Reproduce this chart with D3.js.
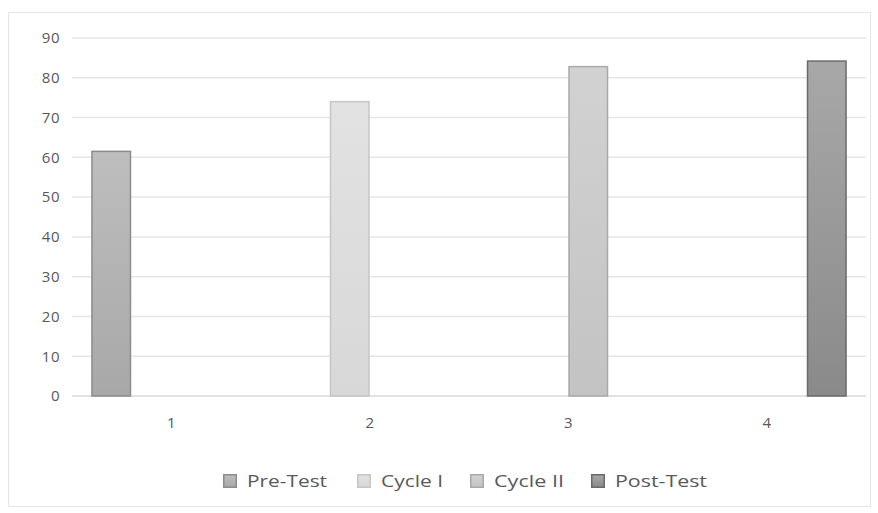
<!DOCTYPE html>
<html>
<head>
<meta charset="utf-8">
<script src="https://cdn.jsdelivr.net/npm/d3@7/dist/d3.min.js"></script>
<style>
  html, body { margin: 0; padding: 0; background: #fff; }
  svg { display: block; font-family: "Open Sans", "Noto Sans", sans-serif; }
</style>
</head>
<body>
<svg id="chart" width="878" height="513"></svg>
<script>
// Test scores across the four stages of the study
const categories = ["1", "2", "3", "4"];
const seriesNames = ["Pre-Test", "Cycle I", "Cycle II", "Post-Test"];
const preTest  = [61.5, 0, 0, 0];
const cycleI   = [0, 74, 0, 0];
const cycleII  = [0, 0, 82.8, 0];
const postTest = [0, 0, 0, 84.2];
const yTicks = [0, 10, 20, 30, 40, 50, 60, 70, 80, 90];

const seriesValues = [preTest, cycleI, cycleII, postTest];
const fills = [
  ["#bebebe", "#a8a8a8"],
  ["#e2e2e2", "#d8d8d8"],
  ["#d2d2d2", "#c3c3c3"],
  ["#a8a8a8", "#8a8a8a"]
];
const strokes = ["#8c8c8c", "#c6c6c6", "#a9a9a9", "#6a6a6a"];

const svg = d3.select("#chart");
const plot = { left: 72, right: 866, top: 38, bottom: 396 };
const FONT = "'Open Sans', 'Noto Sans', sans-serif";

// outer chart frame
svg.append("rect")
  .attr("x", 8.5).attr("y", 12.5)
  .attr("width", 862).attr("height", 494)
  .attr("fill", "#fff").attr("stroke", "#e6e6e6").attr("stroke-width", 1);

const defs = svg.append("defs");
fills.forEach((f, i) => {
  const g = defs.append("linearGradient")
    .attr("id", "grad" + i).attr("x1", 0).attr("y1", 0).attr("x2", 0).attr("y2", 1);
  g.append("stop").attr("offset", "0%").attr("stop-color", f[0]);
  g.append("stop").attr("offset", "100%").attr("stop-color", f[1]);
});

const y = d3.scaleLinear().domain([0, 90]).range([plot.bottom, plot.top]);
const x0 = d3.scaleBand().domain(categories).range([plot.left, plot.right]).padding(0);
const x1 = d3.scaleBand().domain(seriesNames).range([0, x0.bandwidth()])
  .paddingInner(0).paddingOuter(0.48);

// gridlines
svg.append("g")
  .selectAll("line")
  .data(yTicks)
  .join("line")
  .attr("x1", plot.left).attr("x2", plot.right)
  .attr("y1", d => y(d)).attr("y2", d => y(d))
  .attr("stroke", d => d === 0 ? "#d9d9d9" : "#e6e6e6")
  .attr("stroke-width", 1.5);

// y axis labels
const yAxis = d3.axisLeft(y).tickValues(yTicks).tickSize(0).tickPadding(0);
const yg = svg.append("g").attr("transform", `translate(${60},0)`).call(yAxis);
yg.select(".domain").remove();
yg.selectAll("text")
  .attr("fill", "#595959").attr("font-size", 15).attr("font-family", FONT)
  .attr("letter-spacing", 0.5);

// x axis labels
const xAxis = d3.axisBottom(x0).tickSize(0).tickPadding(0);
const xg = svg.append("g").attr("transform", `translate(0,${417})`).call(xAxis);
xg.select(".domain").remove();
xg.selectAll("text")
  .attr("fill", "#595959").attr("font-size", 15).attr("font-family", FONT);

// bars
const barData = [];
categories.forEach((c, ci) => {
  seriesNames.forEach((s, si) => {
    const v = seriesValues[si][ci];
    if (v > 0) barData.push({ c, s, si, v });
  });
});
svg.append("g")
  .selectAll("rect")
  .data(barData)
  .join("rect")
  .attr("x", d => x0(d.c) + x1(d.s) + 0.75)
  .attr("width", x1.bandwidth() - 1.5)
  .attr("y", d => y(d.v))
  .attr("height", d => y(0) - y(d.v))
  .attr("fill", d => `url(#grad${d.si})`)
  .attr("stroke", d => strokes[d.si])
  .attr("stroke-width", 1.5);

// legend
const legendX = [223, 357, 470, 591];
const legendTextW = [80, 62, 70, 92];
const lg = svg.append("g");
seriesNames.forEach((s, i) => {
  const g = lg.append("g").attr("transform", `translate(${legendX[i]},${474})`);
  g.append("rect")
    .attr("x", 0.75).attr("y", 0.75).attr("width", 12.5).attr("height", 12.5)
    .attr("fill", `url(#grad${i})`).attr("stroke", strokes[i]).attr("stroke-width", 1.5);
  g.append("text")
    .attr("x", 24).attr("y", 13)
    .attr("fill", "#595959").attr("font-size", 16).attr("font-family", FONT)
    .attr("textLength", legendTextW[i]).attr("lengthAdjust", "spacingAndGlyphs")
    .text(s);
});
</script>
</body>
</html>
